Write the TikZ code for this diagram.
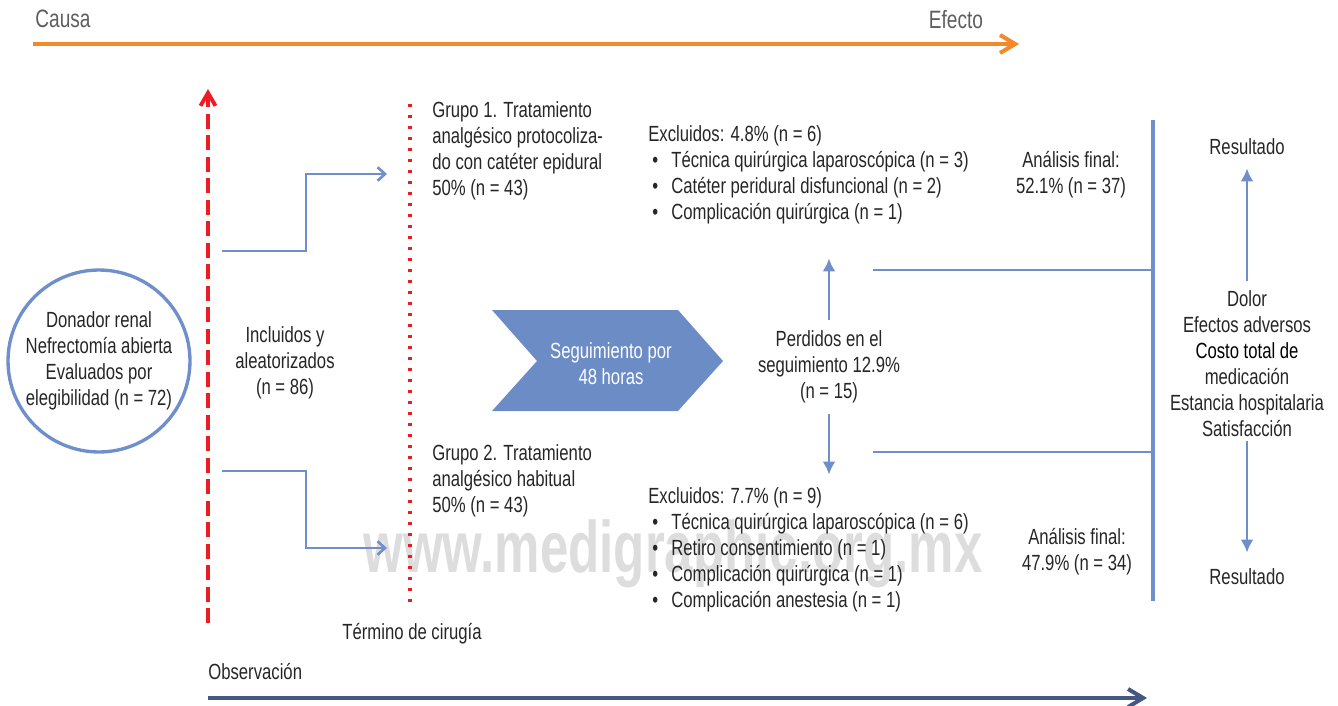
\documentclass[tikz,border=0pt]{standalone}
\usepackage{fontspec}
\setmainfont{Liberation Sans}[FakeStretch=0.76]
\newfontfamily\marcafont{Liberation Sans}[FakeStretch=0.70]
\usetikzlibrary{shapes,arrows.meta,positioning}

\definecolor{ink}{HTML}{262626}
\definecolor{soft}{HTML}{5E5E5E}
\definecolor{causa}{HTML}{F4892A}
\definecolor{rojo}{HTML}{ED1C24}
\definecolor{flujo}{HTML}{6F8FCC}
\definecolor{cheuron}{HTML}{6C8CC6}
\definecolor{tiempo}{HTML}{445882}
\definecolor{marca}{HTML}{DDDDDD}
\newcommand{\itm}{\hspace*{0.08cm}\makebox[0.38cm][l]{\textbullet}}

\begin{document}
\begin{tikzpicture}[x=0.02cm, y=-0.02cm, >=Latex]
  \tikzstyle{txt} = [font=\fontsize{12.5}{14.8}\selectfont, text=ink, inner sep=0pt]
  \tikzstyle{eje} = [font=\fontsize{14.3}{16}\selectfont, text=soft, inner sep=0pt]
  \tikzstyle{flow} = [draw=flujo, line width=1.5pt]
  \tikzstyle{barb} = [-{Straight Barb[length=0.15cm,width=0.27cm]}]
  \tikzstyle{tip} = [-{Latex[length=0.26cm,width=0.26cm]}]
  \tikzstyle{bigbarb} = [-{Straight Barb[length=0.3cm,width=0.36cm]}]
  \useasboundingbox (0,0) rectangle (1338,706);

  % marca de agua
  \node[font=\marcafont\fontsize{41.5}{41.5}\selectfont\bfseries, text=marca, inner sep=0pt] (marca) at (673,554) {www.medigraphic.org.mx};

  % causa -> efecto
  \coordinate (causa0) at (33,44);
  \coordinate (efecto0) at (1019,44);
  \draw[causa, line width=2.3pt, bigbarb] (causa0) -- (efecto0);
  \node[eje, anchor=west] (causa) at (35,19) {Causa};
  \node[eje] (efecto) at (956,20) {Efecto};

  % lineas rojas
  \coordinate (rojo0) at (208,623);
  \coordinate (rojo1) at (208,89);
  \draw[rojo, line width=2.2pt, dash pattern=on 0.3cm off 0.13cm, -{Straight Barb[length=0.26cm,width=0.3cm]}] (rojo0) -- (rojo1);
  \coordinate (punto0) at (410,104);
  \coordinate (punto1) at (410,608);
  \draw[rojo, line width=0.065cm, dash pattern=on 0.06cm off 0.16cm] (punto0) -- (punto1);

  % poblacion
  \node[txt, circle, draw=flujo, line width=1.9pt, minimum size=3.64cm, align=center] (donador) at (99,361) {Donador renal\\Nefrectomía abierta\\Evaluados por\\elegibilidad (n = 72)};
  \node[txt, align=center] (incluidos) at (285,363) {Incluidos y\\aleatorizados\\(n = 86)};

  % ramas
  \coordinate (rama1) at (222,251);
  \coordinate (rama2) at (222,471);
  \coordinate (g1in) at (387,174);
  \coordinate (g2in) at (387,548);
  \draw[flow, barb] (rama1) -- ++(84,0) |- (g1in);
  \draw[flow, barb] (rama2) -- ++(84,0) |- (g2in);

  \node[txt, align=left, anchor=west] (grupo1) at (432,151) {Grupo 1. Tratamiento\\analgésico protocoliza-\\do con catéter epidural\\50\% (n = 43)};
  \node[txt, align=left, anchor=west] (grupo2) at (432,481) {Grupo 2. Tratamiento\\analgésico habitual\\50\% (n = 43)};

  % seguimiento
  \fill[cheuron] (492,310) -- (678,310) -- (723,361) -- (678,411) -- (492,411) -- (537,361) -- cycle;
  \node[txt, text=white, align=center] (seguim) at (611,364) {Seguimiento por\\48 horas};

  \node[txt, align=center] (perdidos) at (829,367) {Perdidos en el\\seguimiento 12.9\%\\(n = 15)};
  \draw[flow, tip] (perdidos.north) ++(0,-10) -- ++(0,-62);
  \draw[flow, tip] (perdidos.south) ++(0,10) -- ++(0,61);

  \node[txt, align=left, anchor=west] (excl1) at (648,175) {Excluidos: 4.8\% (n = 6)\\\itm Técnica quirúrgica laparoscópica (n = 3)\\\itm Catéter peridural disfuncional (n = 2)\\\itm Complicación quirúrgica (n = 1)};
  \node[txt, align=left, anchor=west] (excl2) at (648,550) {Excluidos: 7.7\% (n = 9)\\\itm Técnica quirúrgica laparoscópica (n = 6)\\\itm Retiro consentimiento (n = 1)\\\itm Complicación quirúrgica (n = 1)\\\itm Complicación anestesia (n = 1)};

  \node[txt, align=center] (analisis1) at (1071,175) {Análisis final:\\52.1\% (n = 37)};
  \node[txt, align=center] (analisis2) at (1077,552) {Análisis final:\\47.9\% (n = 34)};

  % barra de resultados
  \coordinate (barra0) at (1153,120);
  \coordinate (barra1) at (1153,601);
  \draw[flujo, line width=2.2pt] (barra0) -- (barra1);
  \coordinate (linea1) at (873,270);
  \coordinate (linea2) at (873,452);
  \draw[flow] (linea1) -- (linea1 -| barra0);
  \draw[flow] (linea2) -- (linea2 -| barra0);

  \node[txt] (res1) at (1247,147) {Resultado};
  \node[txt, align=center] (medidas) at (1247,364) {Dolor\\Efectos adversos\\{\color{black}Costo total de}\\medicación\\Estancia hospitalaria\\Satisfacción};
  \node[txt] (res2) at (1247,577) {Resultado};
  \draw[flow, tip, shorten <=0.2cm, shorten >=0.26cm] (medidas) -- (res1);
  \draw[flow, tip, shorten <=0.07cm, shorten >=0.32cm] (medidas) -- (res2);

  % observacion
  \node[txt] (termino) at (412,634) {Término de cirugía};
  \node[txt, anchor=west] (obs) at (208,672) {Observación};
  \coordinate (obs0) at (208,698);
  \coordinate (obs1) at (1147,698);
  \draw[tiempo, line width=2.3pt, bigbarb] (obs0) -- (obs1);
\end{tikzpicture}
\end{document}
